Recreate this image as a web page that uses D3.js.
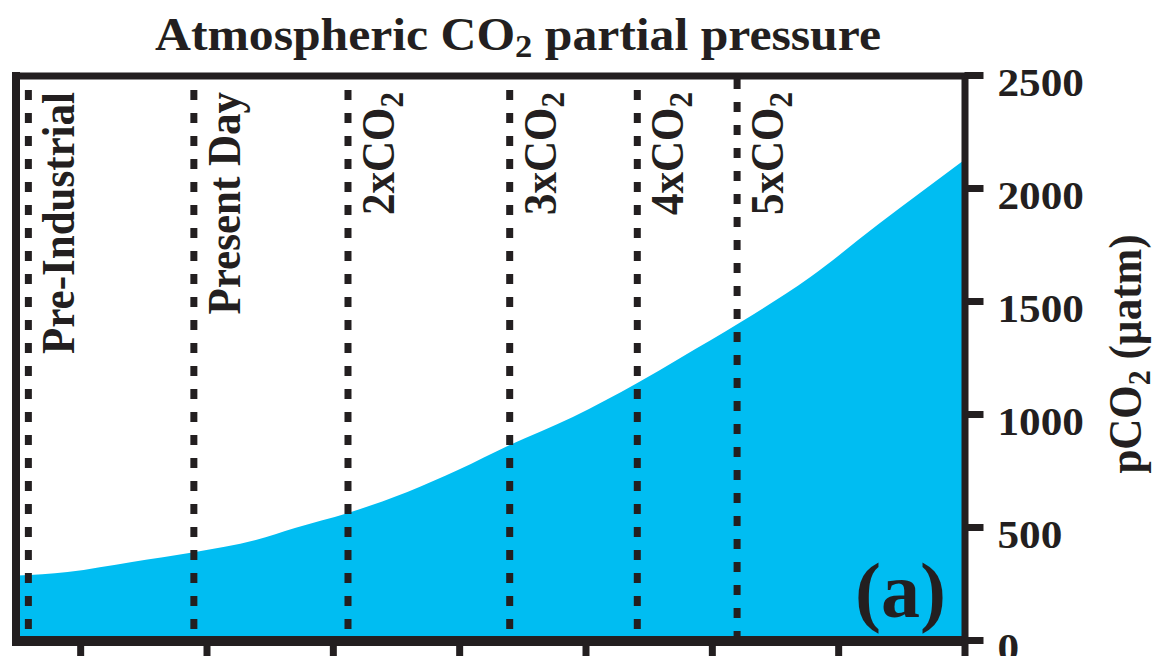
<!DOCTYPE html>
<html>
<head>
<meta charset="utf-8">
<script src="https://cdn.jsdelivr.net/npm/d3@7"></script>
<style>
  html, body { margin: 0; padding: 0; background: #fff; }
  svg { display: block; }
  text { font-family: "Liberation Serif", "Times New Roman", serif; font-weight: bold; fill: #231f20; }
</style>
</head>
<body>
<svg id="chart" width="1154" height="656"></svg>
<script>
// ---- data ----
const xPos  = [-0.5, -0.1, 0.41, 0.9, 1.39, 1.70, 2.12, 2.59, 2.99, 3.40, 3.90, 4.41, 4.75, 5.23, 5.78, 6.31, 7.0];
const pco2  = [285, 301, 345, 388, 442, 496, 562, 655, 752, 863, 987, 1137, 1248, 1407, 1606, 1836, 2125];
const markerNames = ["Pre-Industrial", "Present Day", "2xCO2", "3xCO2", "4xCO2", "5xCO2"];
const markerPos   = [-0.41, 0.90, 2.12, 3.40, 4.41, 5.20];
const yTicks = [0, 500, 1000, 1500, 2000, 2500];
const yTickLabels = ["0", "500", "1000", "1500", "2000", "2500"];
const xTicks = [0, 1, 2, 3, 4, 5, 6, 7];
const titleText = "Atmospheric CO";
const titleRest = " partial pressure";
const yTitleMain = "pCO";
const yTitleRest = " (\u00b5atm)";
const panelLabel = "(a)";

// ---- layout ----
const ink = "#231f20";
const fillColor = "#00bdf2";
const SX = 1.08;
const plotLeft = 17, plotRight = 964.5, plotTop = 75, plotBottom = 640;

const svg = d3.select("#chart");
svg.append("rect").attr("width", 1154).attr("height", 656).attr("fill", "#fff");

const x = d3.scaleLinear().domain([-0.5, 7]).range([plotLeft, plotRight]);
const y = d3.scaleLinear().domain([0, 2500]).range([plotBottom, plotTop]);

const data = xPos.map((d, i) => ({ x: d, v: pco2[i] }));

// area
const area = d3.area()
  .x(d => x(d.x))
  .y0(y(0))
  .y1(d => y(d.v))
  .curve(d3.curveMonotoneX);
svg.append("path").datum(data).attr("d", area).attr("fill", fillColor);

// dotted marker lines
const mg = svg.append("g");
markerPos.forEach((m, i) => {
  mg.append("line")
    .attr("x1", x(m)).attr("x2", x(m))
    .attr("y1", y(2500)).attr("y2", y(0))
    .attr("stroke", ink).attr("stroke-width", 7)
    .attr("stroke-dasharray", "10,13")
    .attr("stroke-dashoffset", i === 5 ? 19 : 8);
  const name = markerNames[i];
  const t = mg.append("text")
    .attr("transform", `translate(${x(m) + 46},92) scale(${SX},1) rotate(-90)`)
    .attr("text-anchor", "end")
    .attr("font-size", 43);
  if (name.endsWith("CO2")) {
    t.append("tspan").text(name.slice(0, -1));
    t.append("tspan").attr("font-size", 31).attr("dy", 8).text("2");
  } else {
    t.text(name);
  }
});

// frame
svg.append("line").attr("x1", 12).attr("x2", 968).attr("y1", 76).attr("y2", 76)
  .attr("stroke", ink).attr("stroke-width", 7);
svg.append("line").attr("x1", 16).attr("x2", 16).attr("y1", 72).attr("y2", 646)
  .attr("stroke", ink).attr("stroke-width", 8);
svg.append("line").attr("x1", 12).attr("x2", 968).attr("y1", 641).attr("y2", 641)
  .attr("stroke", ink).attr("stroke-width", 10);

// right axis
const yAxis = d3.axisRight(y).tickValues(yTicks).tickSize(19).tickSizeOuter(0).tickPadding(14)
  .tickFormat((d, i) => yTickLabels[i]);
const ya = svg.append("g").attr("transform", `translate(${plotRight},0)`).call(yAxis);
ya.select(".domain").attr("stroke", ink).attr("stroke-width", 7);
ya.selectAll(".tick line").attr("stroke", ink).attr("stroke-width", 7);
ya.selectAll(".tick text")
  .attr("font-size", 40)
  .attr("font-family", "Liberation Serif, Times New Roman, serif")
  .attr("font-weight", "bold")
  .attr("fill", ink)
  .attr("x", 33 / SX)
  .attr("dy", "0.5em")
  .attr("transform", `scale(${SX},1)`);

// bottom axis (no labels)
const xAxis = d3.axisBottom(x).tickValues(xTicks).tickSize(16).tickSizeOuter(0).tickFormat("");
const xa = svg.append("g").attr("transform", `translate(0,641)`).call(xAxis);
xa.select(".domain").remove();
xa.selectAll(".tick line").attr("stroke", ink).attr("stroke-width", 7);

// title
const tt = svg.append("text")
  .attr("transform", `translate(518,50) scale(${SX},1)`)
  .attr("text-anchor", "middle")
  .attr("font-size", 46);
tt.append("tspan").text(titleText);
tt.append("tspan").attr("font-size", 32).attr("dy", 7).text("2");
tt.append("tspan").attr("dy", -7).text(titleRest);

// y title
const yt = svg.append("text")
  .attr("transform", `translate(1141,354) scale(${SX},1) rotate(-90)`)
  .attr("text-anchor", "middle")
  .attr("font-size", 43);
yt.append("tspan").text(yTitleMain);
yt.append("tspan").attr("font-size", 30).attr("dy", 8).text("2");
yt.append("tspan").attr("dy", -8).text(yTitleRest);

// panel label
svg.append("text")
  .attr("x", 946).attr("y", 617)
  .attr("text-anchor", "end")
  .attr("font-size", 78)
  .text(panelLabel);
</script>
</body>
</html>
